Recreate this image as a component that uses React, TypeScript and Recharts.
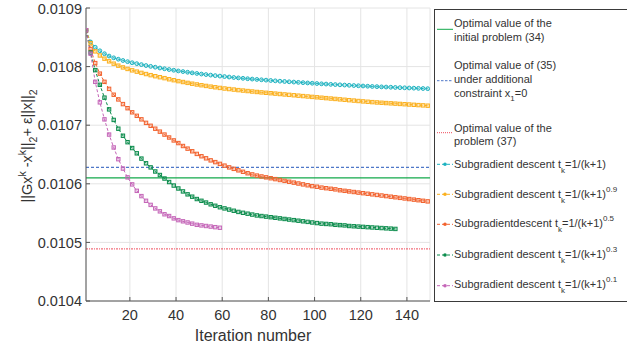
import { LineChart, Line, XAxis, YAxis, CartesianGrid, ReferenceLine } from 'recharts';

const FONT = '"Liberation Sans", Arial, Helvetica, sans-serif';

// every second iteration is kept (k = 1, 3, 5, ...)
const ITER_STEP = 2;

const xTicks = [20, 40, 60, 80, 100, 120, 140];
const yTicks = [0.0104, 0.0105, 0.0106, 0.0107, 0.0108, 0.0109];

const optimalInitial = 0.01061;
const optimalConstrained = 0.010628;
const optimalProblem37 = 0.010489;

// t_k = 1/(k+1)
const step1Values = [
  0.010862, 0.010842, 0.010833, 0.010827, 0.010822, 0.010818, 0.010815, 0.0108126, 0.0108104, 0.0108084,
  0.0108066, 0.010805, 0.0108034, 0.0108018, 0.0108004, 0.010799, 0.0107976, 0.0107963, 0.010795, 0.0107938,
  0.0107926, 0.0107915, 0.0107904, 0.0107893, 0.0107883, 0.0107873, 0.0107864, 0.0107855, 0.0107846, 0.0107838,
  0.010783, 0.0107822, 0.0107814, 0.0107807, 0.01078, 0.0107793, 0.0107787, 0.0107781, 0.0107775, 0.0107769,
  0.0107763, 0.0107757, 0.0107751, 0.0107746, 0.0107741, 0.0107736, 0.0107731, 0.0107726, 0.0107721, 0.0107716,
  0.0107711, 0.0107706, 0.0107702, 0.0107697, 0.0107693, 0.0107689, 0.0107685, 0.0107681, 0.0107677, 0.0107673,
  0.0107669, 0.0107665, 0.0107661, 0.0107658, 0.0107654, 0.0107651, 0.0107648, 0.0107644, 0.0107641, 0.0107638,
  0.0107635, 0.0107632, 0.0107629, 0.0107626, 0.0107623,
];

// t_k = 1/(k+1)^0.9
const step09Values = [
  0.010862, 0.01084, 0.010826, 0.010819, 0.0108135, 0.010809, 0.010805, 0.0108016, 0.0107986, 0.010796,
  0.0107936, 0.0107914, 0.0107893, 0.0107873, 0.0107854, 0.0107836, 0.0107819, 0.0107803, 0.0107784, 0.0107768,
  0.0107752, 0.0107737, 0.0107722, 0.0107708, 0.0107695, 0.0107682, 0.010767, 0.0107658, 0.0107647, 0.0107636,
  0.0107626, 0.0107617, 0.0107608, 0.0107599, 0.0107591, 0.0107583, 0.0107575, 0.0107567, 0.010756, 0.0107553,
  0.0107546, 0.0107539, 0.0107532, 0.0107525, 0.0107518, 0.0107511, 0.0107504, 0.0107497, 0.010749, 0.0107483,
  0.0107476, 0.0107469, 0.0107462, 0.0107455, 0.0107448, 0.0107441, 0.0107434, 0.0107427, 0.010742, 0.0107413,
  0.0107406, 0.01074, 0.0107394, 0.0107388, 0.0107383, 0.0107378, 0.0107373, 0.0107368, 0.0107363, 0.0107358,
  0.0107353, 0.0107348, 0.0107343, 0.0107338, 0.0107333,
];

// t_k = 1/(k+1)^0.5
const step05Values = [
  0.010862, 0.01083, 0.010806, 0.010788, 0.010774, 0.010762, 0.010752, 0.010744, 0.010736, 0.010729,
  0.010722, 0.010716, 0.01071, 0.010704, 0.010699, 0.010694, 0.010689, 0.010684, 0.010679, 0.010674,
  0.0106695, 0.0106645, 0.01066, 0.0106555, 0.010651, 0.010647, 0.0106435, 0.01064, 0.010637, 0.010634,
  0.010631, 0.010628, 0.0106255, 0.010623, 0.0106205, 0.010618, 0.010616, 0.010614, 0.0106125, 0.010611,
  0.0106095, 0.010608, 0.0106065, 0.010605, 0.0106035, 0.010602, 0.0106005, 0.010599, 0.0105975, 0.010596,
  0.010595, 0.0105935, 0.0105925, 0.0105915, 0.0105905, 0.010589, 0.010588, 0.010587, 0.010586, 0.010585,
  0.010584, 0.010583, 0.010582, 0.010581, 0.01058, 0.010579, 0.010578, 0.010577, 0.010576, 0.010575,
  0.010574, 0.010573, 0.010572, 0.010571, 0.01057,
];

// t_k = 1/(k+1)^0.3 (stops at k = 135)
const step03Values = [
  0.010862, 0.010824, 0.010794, 0.010769, 0.010747, 0.010727, 0.010709, 0.010694, 0.010682, 0.010671,
  0.010661, 0.010652, 0.010643, 0.010635, 0.010628, 0.010621, 0.010615, 0.010609, 0.010603, 0.010597,
  0.010592, 0.010587, 0.010582, 0.010578, 0.010574, 0.010571, 0.010568, 0.010565, 0.0105625, 0.01056,
  0.010558, 0.010556, 0.010554, 0.010552, 0.0105505, 0.010549, 0.0105475, 0.010546, 0.010545, 0.010544,
  0.010543, 0.010542, 0.010541, 0.01054, 0.010539, 0.010538, 0.010537, 0.010536, 0.010535, 0.010534,
  0.010533, 0.010532, 0.0105315, 0.010531, 0.01053, 0.0105295, 0.010529, 0.010528, 0.0105275, 0.010527,
  0.0105265, 0.010526, 0.0105255, 0.010525, 0.0105245, 0.010524, 0.0105235, 0.010523,
];

// t_k = 1/(k+1)^0.1 (stops at k = 59)
const step01Values = [
  0.010862, 0.010822, 0.010774, 0.010739, 0.01071, 0.010684, 0.010662, 0.010642, 0.010626, 0.010611,
  0.010599, 0.010588, 0.010579, 0.010571, 0.010564, 0.010558, 0.010553, 0.010548, 0.010545, 0.010541,
  0.010538, 0.010536, 0.010534, 0.010532, 0.01053, 0.010529, 0.010528, 0.010527, 0.010526, 0.010525,
];

const toPoints = (values: number[]) => values.map((v, i) => ({ k: 1 + ITER_STEP * i, v }));

const series = [
  { id: 's1', values: step1Values, color: '#1cb2c0', shape: 'circle', exp: '' },
  { id: 's09', values: step09Values, color: '#fbb01e', shape: 'square', exp: '0.9' },
  { id: 's05', values: step05Values, color: '#f2622e', shape: 'square', exp: '0.5' },
  { id: 's03', values: step03Values, color: '#0b8c4c', shape: 'square', exp: '0.3' },
  { id: 's01', values: step01Values, color: '#c566b8', shape: 'square', exp: '0.1' },
];

const makeDot = (color: string, shape: string) => (props: any) => {
  const { cx, cy, index } = props;
  if (cx == null || cy == null) return <g key={index} />;
  if (shape === 'circle') {
    return <circle key={index} cx={cx} cy={cy} r={1.9} fill={color} fillOpacity={0.25} stroke={color} strokeWidth={1} />;
  }
  return (
    <rect key={index} x={cx - 1.7} y={cy - 1.7} width={3.4} height={3.4}
      fill={color} fillOpacity={0.3} stroke={color} strokeWidth={1} />
  );
};

const TEXT = '#333';
const AXIS = '#555';

function XTitle() {
  return (
    <text x={253} y={340.5} textAnchor="middle" fontSize={16} fill={TEXT} fontFamily={FONT}>
      Iteration number
    </text>
  );
}

function YTitle() {
  return (
    <text x={32} y={146} transform="rotate(-90, 32, 146)" textAnchor="middle"
      fontSize={14.5} fill={TEXT} fontFamily={FONT}>
      ||Gx<tspan dy={-6} fontSize={10.5}>k</tspan>
      <tspan dy={6}> -x</tspan><tspan dy={-6} fontSize={10.5}>k</tspan>
      <tspan dy={6}>||</tspan><tspan dy={5} fontSize={10.5}>2</tspan>
      <tspan dy={-5}>+ ε||x||</tspan><tspan dy={5} fontSize={10.5}>2</tspan>
    </text>
  );
}

function LegendBox() {
  const x0 = 437;
  const x1 = 453;
  const tx = 454;
  const fs = 11;
  const sub = { fontSize: 8 };
  const stepRows = [
    { base: 167.7, mark: 164.3 },
    { base: 197.7, mark: 194.3 },
    { base: 227.3, mark: 224.3 },
    { base: 258.3, mark: 255 },
    { base: 288.3, mark: 285.7 },
  ];
  return (
    <svg width={627} height={347} style={{ position: 'absolute', left: 0, top: 0 }} fontFamily={FONT}>
      <rect x={434.5} y={9.5} width={220} height={292} fill="#fff" stroke="#3a3a3a" strokeWidth={1} />
      <line x1={x0} x2={x1} y1={29.3} y2={29.3} stroke="#12a84a" strokeWidth={1} />
      <text x={tx} y={27.3} fontSize={fs} fill={TEXT}>Optimal value of the</text>
      <text x={tx} y={40.8} fontSize={fs} fill={TEXT}>initial problem (34)</text>

      <line x1={x0} x2={x1} y1={80.7} y2={80.7} stroke="#4f78c8" strokeWidth={1} strokeDasharray="2.5 1.5" />
      <text x={tx} y={68.8} fontSize={fs} fill={TEXT}>Optimal value of (35)</text>
      <text x={tx} y={83.2} fontSize={fs} fill={TEXT}>under additional</text>
      <text x={tx} y={97.3} fontSize={fs} fill={TEXT}>
        constraint x<tspan dy={4} style={sub}>1</tspan><tspan dy={-4}>=0</tspan>
      </text>

      <line x1={x0} x2={x1} y1={132.7} y2={132.7} stroke="#ef4a5a" strokeWidth={1} strokeDasharray="1 1" />
      <text x={tx} y={131.7} fontSize={fs} fill={TEXT}>Optimal value of the</text>
      <text x={tx} y={145} fontSize={fs} fill={TEXT}>problem (37)</text>

      {series.map((s, i) => (
        <g key={s.id}>
          <line x1={x0} x2={x1} y1={stepRows[i].mark} y2={stepRows[i].mark}
            stroke={s.color} strokeWidth={1} strokeDasharray="3 2" />
          <circle cx={(x0 + x1) / 2} cy={stepRows[i].mark} r={1.8} fill={s.color} />
          <text x={tx} y={stepRows[i].base} fontSize={fs} fill={TEXT}>
            {i === 2 ? 'Subgradientdescent t' : 'Subgradient descent t'}
            <tspan dy={5} style={sub}>k</tspan>
            <tspan dy={-5}>=1/(k+1)</tspan>
            {s.exp ? <tspan dy={-6} style={sub}>{s.exp}</tspan> : null}
          </text>
        </g>
      ))}
    </svg>
  );
}

export default function App() {
  const tickStyle = { fontSize: 14.5, fill: TEXT, fontFamily: FONT };
  return (
    <div style={{ position: 'absolute', left: 0, top: 0, width: 627, height: 347, overflow: 'hidden', background: '#fff' }}>
      <LineChart width={627} height={347} margin={{ top: 8, right: 197, bottom: 0, left: 0 }}>
        <CartesianGrid stroke="#e4e4e4" strokeWidth={1} />
        <XAxis dataKey="k" type="number" domain={[1, 150]} ticks={xTicks} allowDataOverflow
          height={46} tick={tickStyle} tickSize={-4} tickMargin={13}
          tickLine={{ stroke: AXIS }} axisLine={{ stroke: AXIS }} label={<XTitle />} />
        <XAxis xAxisId="top" orientation="top" type="number" domain={[1, 150]} ticks={xTicks}
          height={0} tick={false} tickSize={-4} tickLine={{ stroke: AXIS }} axisLine={{ stroke: AXIS }} />
        <YAxis type="number" domain={[0.0104, 0.0109]} ticks={yTicks} allowDataOverflow
          width={86} tick={tickStyle} tickSize={-4} tickMargin={8}
          tickFormatter={(v: number) => v.toFixed(4)}
          tickLine={{ stroke: AXIS }} axisLine={{ stroke: AXIS }} label={<YTitle />} />
        <YAxis yAxisId="right" orientation="right" type="number" domain={[0.0104, 0.0109]} ticks={yTicks}
          width={0} tick={false} tickSize={-4} tickLine={{ stroke: AXIS }} axisLine={{ stroke: AXIS }} />

        <ReferenceLine y={optimalInitial} stroke="#12a84a" strokeWidth={1.2} />
        <ReferenceLine y={optimalConstrained} stroke="#4f78c8" strokeWidth={1.2} strokeDasharray="3 2" />
        <ReferenceLine y={optimalProblem37} stroke="#ef4a5a" strokeOpacity={0.8} strokeWidth={1.4} strokeDasharray="2 1 1 1" />

        {series.map((s) => (
          <Line key={s.id} data={toPoints(s.values)} dataKey="v" type="linear"
            stroke={s.color} strokeWidth={1} strokeDasharray="3 2"
            dot={makeDot(s.color, s.shape)} activeDot={false} isAnimationActive={false} />
        ))}
      </LineChart>
      <LegendBox />
    </div>
  );
}
